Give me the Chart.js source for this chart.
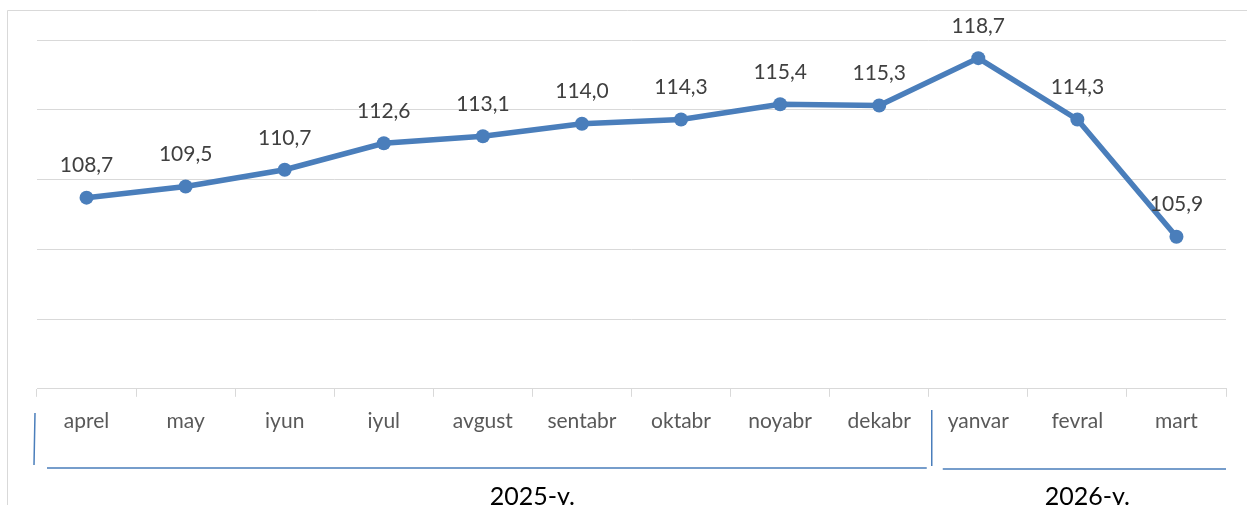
<!DOCTYPE html>
<html>
<head>
<meta charset="utf-8">
<script src="https://cdn.jsdelivr.net/npm/chart.js@4"></script>
<style>
  body { margin: 0; background: #fff; }
  #wrap { width: 1247px; height: 505px; position: relative; }
</style>
</head>
<body>
<div id="wrap"><canvas id="priceChart"></canvas></div>
<script>
// month labels and index values
const months = ['aprel', 'may', 'iyun', 'iyul', 'avgust', 'sentabr', 'oktabr', 'noyabr', 'dekabr', 'yanvar', 'fevral', 'mart'];
const values = [108.7, 109.5, 110.7, 112.6, 113.1, 114.0, 114.3, 115.4, 115.3, 118.7, 114.3, 105.9];
const yearLabels = ['2025-y.', '2026-y.'];
const yearSplit = 8.5;            // boundary between dekabr and yanvar
const yearLabelAt = [4.5, 10.1];  // where the year captions sit

const lineBlue = '#4a7ebb';
const gridGrey = '#d9d9d9';
const font = 'Lato, "Open Sans", sans-serif';

const decorations = {
    id: 'decorations',
    beforeDraw(chart) {
        const c = chart.ctx;
        c.save();
        c.fillStyle = '#fff';
        c.fillRect(0, 0, chart.width, chart.height);
        // outer frame (only top and left are visible)
        c.strokeStyle = gridGrey;
        c.lineWidth = 1;
        c.beginPath();
        c.moveTo(7.5, chart.height);
        c.lineTo(7.5, 10.5);
        c.lineTo(chart.width, 10.5);
        c.stroke();
        c.restore();
    },
    afterDatasetsDraw(chart) {
        const c = chart.ctx;
        const meta = chart.getDatasetMeta(0);
        c.save();
        // value labels above each point
        c.font = '21px ' + font;
        c.fillStyle = '#404040';
        c.textAlign = 'center';
        c.textBaseline = 'middle';
        meta.data.forEach((pt, i) => {
            c.fillText(values[i].toFixed(1).replace('.', ','), pt.x, pt.y - 32);
        });
        c.restore();
    },
    afterDraw(chart) {
        const c = chart.ctx;
        const x = chart.scales.x;
        const left = x.left;
        const right = x.right;
        const split = x.getPixelForValue(yearSplit);
        c.save();
        // year brackets
        c.strokeStyle = lineBlue;
        c.lineWidth = 1.5;
        c.beginPath();
        c.moveTo(left - 2, 413); c.lineTo(left - 3, 465);
        c.moveTo(left + 10, 468); c.lineTo(split - 2, 468);
        c.moveTo(split + 3, 410); c.lineTo(split + 3, 466);
        c.moveTo(split + 14, 469); c.lineTo(right, 469);
        c.stroke();
        // year captions
        c.font = '25px ' + font;
        c.fillStyle = '#000';
        c.textAlign = 'center';
        c.textBaseline = 'middle';
        yearLabels.forEach((t, i) => {
            c.fillText(t, x.getPixelForValue(yearLabelAt[i]), 497);
        });
        c.restore();
    }
};

const ctx = document.getElementById('priceChart').getContext('2d');
const priceChart = new Chart(ctx, {
    type: 'line',
    data: {
        labels: months,
        datasets: [{
            data: values,
            borderColor: lineBlue,
            backgroundColor: lineBlue,
            borderWidth: 5.5,
            pointRadius: 7,
            pointHoverRadius: 7,
            pointBackgroundColor: lineBlue,
            pointBorderWidth: 0,
            tension: 0,
            clip: false
        }]
    },
    options: {
        responsive: true,
        maintainAspectRatio: false,
        animation: false,
        layout: { padding: { left: 37, right: 21, top: 40, bottom: 59 } },
        plugins: {
            legend: { display: false },
            tooltip: { enabled: false }
        },
        scales: {
            x: {
                offset: true,
                grid: {
                    display: true,
                    drawOnChartArea: false,
                    drawTicks: true,
                    tickLength: 8,
                    offset: true,
                    color: gridGrey
                },
                border: { display: true, color: gridGrey, width: 1 },
                ticks: {
                    color: '#595959',
                    font: { family: font, size: 21 },
                    padding: 12,
                    maxRotation: 0,
                    autoSkip: false
                }
            },
            y: {
                min: 95,
                max: 120,
                ticks: { display: false, stepSize: 5 },
                grid: { color: gridGrey, drawTicks: false },
                border: { display: false }
            }
        }
    },
    plugins: [decorations]
});
</script>
</body>
</html>
